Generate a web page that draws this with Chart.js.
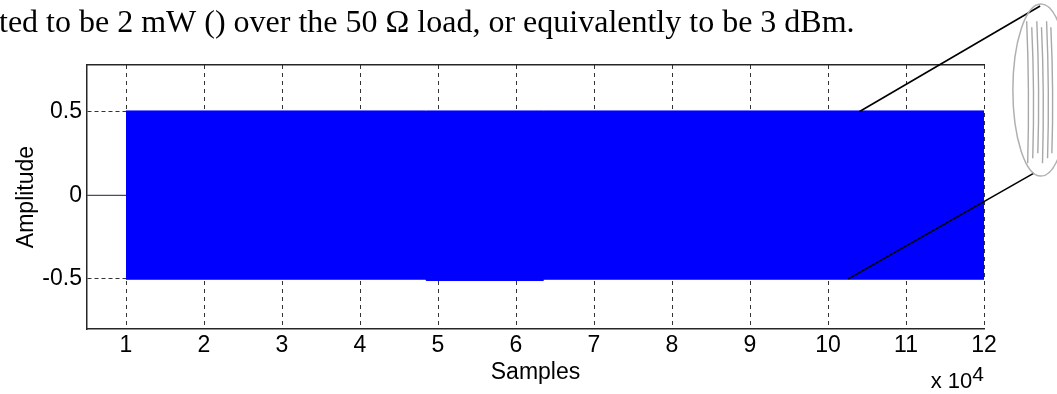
<!DOCTYPE html>
<html>
<head>
<meta charset="utf-8">
<script src="https://cdn.jsdelivr.net/npm/chart.js@4/dist/chart.umd.min.js"></script>
<style>
  html, body { margin: 0; padding: 0; background: #fff; overflow: hidden; }
  #wrap { width: 1057px; height: 394px; position: relative; }
</style>
</head>
<body>
<div id="wrap"><canvas id="sig" width="1057" height="394"></canvas></div>
<script>
// Envelope of the transmitted tone (samples in units of 10^4, amplitude)
const envX     = [1, 2, 3, 4, 4.84, 4.85, 6.35, 6.36, 7, 8, 9, 10, 11, 12];
const envUpper = [0.505, 0.505, 0.505, 0.505, 0.505, 0.505, 0.505, 0.505, 0.505, 0.505, 0.505, 0.505, 0.505, 0.505];
const envLower = [-0.502, -0.502, -0.502, -0.502, -0.502, -0.51, -0.51, -0.502, -0.502, -0.502, -0.502, -0.502, -0.502, -0.502];

// Silent lead-in before the tone starts
const leadX = [0.5, 1];
const leadY = [0, 0];

// Axis ranges and tick labels
const xRange = [0.5, 12];
const yRange = [-0.8, 0.78];
const xTicks = [1, 2, 3, 4, 5, 6, 7, 8, 9, 10, 11, 12];
const yTicks = [-0.5, 0, 0.5];

// Text above the plot and the axis exponent
const headline = 'ted to be 2 mW () over the 50 \u03A9 load, or equivalently to be 3 dBm.';
const xExponentBase = 'x 10';
const xExponentPow = '4';

// Magnifier callout (data units)
const lens = { cx: 12.73, cy: 0.63, rx: 0.36, ry: 0.515 };
const calloutFrom = [[10.40, 0.5], [10.26, -0.5]];
const calloutTo   = [[12.72, 1.133], [12.64, 0.133]];
const lensStrokes = [-0.17, -0.105, -0.04, 0.02, 0.085, 0.14];

const BLUE = '#0000ff';
const AXIS = '#262626';
const SANS = '"Liberation Sans", Arial, sans-serif';

const pts = (xs, ys) => xs.map((x, i) => ({ x, y: ys[i] }));

const decor = {
  id: 'decor',
  afterDraw(chart) {
    const { ctx, chartArea, scales: { x, y } } = chart;
    const px = v => x.getPixelForValue(v);
    const py = v => y.getPixelForValue(v);
    ctx.save();

    // headline text
    ctx.fillStyle = '#000';
    ctx.font = '32px "Liberation Serif", "Times New Roman", serif';
    ctx.textAlign = 'left';
    ctx.textBaseline = 'alphabetic';
    ctx.fillText(headline, -1, 32);

    // x 10^4 exponent
    ctx.textAlign = 'right';
    ctx.font = '21px ' + SANS;
    const r = chartArea.right;
    ctx.fillText(xExponentPow, r, 381);
    const wPow = ctx.measureText(xExponentPow).width;
    ctx.font = '22px ' + SANS;
    ctx.fillText(xExponentBase, r - wPow, 388);

    // callout lines
    ctx.strokeStyle = '#000';
    ctx.lineWidth = 1.6;
    for (let i = 0; i < calloutFrom.length; i++) {
      ctx.beginPath();
      ctx.moveTo(px(calloutFrom[i][0]), py(calloutFrom[i][1]));
      ctx.lineTo(px(calloutTo[i][0]), py(calloutTo[i][1]));
      ctx.stroke();
    }

    // magnifier ellipse
    const ecx = px(lens.cx), ecy = py(lens.cy);
    const erx = px(lens.cx + lens.rx) - ecx;
    const ery = ecy - py(lens.cy + lens.ry);
    ctx.strokeStyle = '#b0b0b0';
    ctx.lineWidth = 1.5;
    ctx.beginPath();
    ctx.ellipse(ecx, ecy, erx, ery, 0, 0, Math.PI * 2);
    ctx.stroke();

    // zoomed oscillation strokes inside the lens
    ctx.strokeStyle = '#a8a8a8';
    ctx.lineWidth = 1.4;
    const top = py(lens.cy + lens.ry * 0.8);
    const bot = py(lens.cy - lens.ry * 0.85);
    lensStrokes.forEach((dx, k) => {
      const sx = px(lens.cx + dx);
      ctx.beginPath();
      ctx.moveTo(sx - 1, top + (k % 2) * 6);
      ctx.quadraticCurveTo(sx + 2, (top + bot) / 2, sx, bot - (k % 3) * 5);
      ctx.stroke();
    });

    ctx.restore();
  }
};

new Chart(document.getElementById('sig'), {
  type: 'line',
  data: {
    datasets: [
      {
        data: pts(envX, envUpper),
        borderColor: BLUE,
        borderWidth: 1,
        backgroundColor: BLUE,
        pointRadius: 0,
        tension: 0,
        fill: false
      },
      {
        data: pts(envX, envLower),
        borderColor: BLUE,
        borderWidth: 1,
        backgroundColor: BLUE,
        pointRadius: 0,
        tension: 0,
        fill: '-1'
      },
      {
        data: pts(leadX, leadY),
        borderColor: '#4a4a6e',
        borderWidth: 1.3,
        pointRadius: 0,
        fill: false
      }
    ]
  },
  options: {
    responsive: false,
    animation: false,
    devicePixelRatio: 1,
    layout: { padding: { left: 0, top: 65, right: 73, bottom: 0 } },
    plugins: { legend: { display: false }, tooltip: { enabled: false }, title: { display: false } },
    scales: {
      x: {
        type: 'linear',
        position: 'bottom',
        min: xRange[0],
        max: xRange[1],
        afterBuildTicks: s => { s.ticks = xTicks.map(v => ({ value: v })); },
        afterFit: s => { s.height = 65; },
        ticks: {
          autoSkip: false,
          maxRotation: 0,
          padding: 3,
          color: '#000',
          font: { family: SANS, size: 23 },
          callback: v => String(v)
        },
        grid: { color: '#333', lineWidth: 1, drawTicks: false },
        border: { display: true, color: AXIS, width: 1.5, dash: [4, 4] },
        title: {
          display: true,
          text: 'Samples',
          color: '#000',
          font: { family: SANS, size: 23 },
          padding: { top: 0, bottom: 8 }
        }
      },
      x2: {
        type: 'linear',
        position: 'top',
        min: xRange[0],
        max: xRange[1],
        afterFit: s => { s.height = 0; },
        ticks: { display: false },
        grid: { display: false, drawTicks: false },
        border: { display: true, color: AXIS, width: 1.5 }
      },
      y: {
        type: 'linear',
        min: yRange[0],
        max: yRange[1],
        afterBuildTicks: s => { s.ticks = yTicks.map(v => ({ value: v })); },
        afterFit: s => { s.width = 87; },
        ticks: {
          padding: 5,
          color: '#000',
          font: { family: SANS, size: 23 },
          callback: v => String(v)
        },
        grid: { color: '#333', lineWidth: 1, drawTicks: false },
        border: { display: true, color: AXIS, width: 1.5, dash: [4, 3] },
        title: {
          display: true,
          text: 'Amplitude',
          color: '#000',
          font: { family: SANS, size: 23 },
          padding: { top: 13, bottom: 0 }
        }
      }
    }
  },
  plugins: [decor]
});
</script>
</body>
</html>
